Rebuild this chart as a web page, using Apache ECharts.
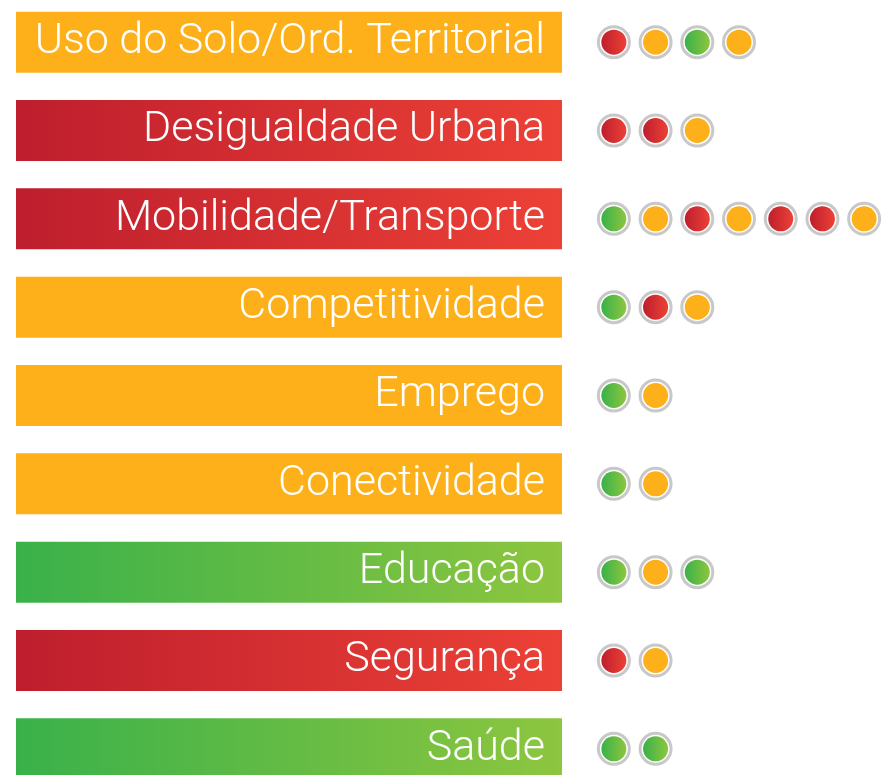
<!DOCTYPE html>
<html>
<head>
<meta charset="utf-8">
<script src="https://cdn.jsdelivr.net/npm/echarts@6/dist/echarts.min.js"></script>
<style>
  html, body { margin: 0; padding: 0; background: #fff; overflow: hidden; }
  #chart { width: 885px; height: 795px; position: absolute; left: 0; top: -2px; }
</style>
</head>
<body>
<div id="chart"></div>
<script>
// temas (linhas) e o estado de cada um
var themes = [
  'Uso do Solo/Ord. Territorial',
  'Desigualdade Urbana',
  'Mobilidade/Transporte',
  'Competitividade',
  'Emprego',
  'Conectividade',
  'Educação',
  'Segurança',
  'Saúde'
]
// cor da barra: r = vermelho, o = laranja, g = verde
var themeStatus = ['o', 'r', 'r', 'o', 'o', 'o', 'g', 'r', 'g']
var barLength = [1, 1, 1, 1, 1, 1, 1, 1, 1]
// indicadores (bolinhas) de cada tema
var indicators = [
  ['r', 'o', 'g', 'o'],
  ['r', 'r', 'o'],
  ['g', 'o', 'r', 'o', 'r', 'r', 'o'],
  ['g', 'r', 'o'],
  ['g', 'o'],
  ['g', 'o'],
  ['g', 'o', 'g'],
  ['r', 'o'],
  ['g', 'g']
]

var labelFont = 'Roboto'

function statusColor(s) {
  if (s === 'o') return '#FDB01A'
  if (s === 'r') {
    return new echarts.graphic.LinearGradient(0, 0, 1, 0, [
      { offset: 0, color: '#BE1E2D' },
      { offset: 1, color: '#EC4136' }
    ])
  }
  return new echarts.graphic.LinearGradient(0, 0, 1, 0, [
    { offset: 0, color: '#39B14A' },
    { offset: 1, color: '#8DC63F' }
  ])
}

// tamanho da fonte para o maior texto caber na barra
function fitFontSize() {
  var ctx = document.createElement('canvas').getContext('2d')
  ctx.font = '300 100px ' + labelFont
  var w = 0
  themes.forEach(function (t) {
    w = Math.max(w, ctx.measureText(t).width)
  })
  return Math.floor((100 * 522) / w)
}

var barData = barLength.map(function (v, i) {
  return { value: v, itemStyle: { color: statusColor(themeStatus[i]) } }
})

var ringData = []
var dotData = []
indicators.forEach(function (row, i) {
  row.forEach(function (s, k) {
    ringData.push([k, i])
    dotData.push({ value: [k, i], itemStyle: { color: statusColor(s) } })
  })
})

var chart = echarts.init(document.getElementById('chart'))
var option = {
  animation: false,
  grid: [
    { left: 16, width: 546, top: 0, height: 795 },
    { left: 593, width: 294, top: 0, height: 795 }
  ],
  xAxis: [
    { gridIndex: 0, type: 'value', min: 0, max: 1, show: false },
    { gridIndex: 1, type: 'value', min: -0.5, max: 6.5, show: false }
  ],
  yAxis: [
    { gridIndex: 0, type: 'category', data: themes, inverse: true, show: false },
    { gridIndex: 1, type: 'category', data: themes, inverse: true, show: false }
  ],
  series: [
    {
      type: 'bar',
      xAxisIndex: 0,
      yAxisIndex: 0,
      barWidth: 61,
      data: barData,
      label: {
        show: true,
        position: 'insideRight',
        distance: 17,
        formatter: function (p) { return p.name },
        color: '#fff',
        fontFamily: labelFont,
        fontWeight: 300,
        fontSize: fitFontSize()
      }
    },
    {
      type: 'scatter',
      xAxisIndex: 1,
      yAxisIndex: 1,
      symbolSize: 31,
      itemStyle: { color: '#fff', borderColor: '#C8C8C8', borderWidth: 3, opacity: 1 },
      data: ringData
    },
    {
      type: 'scatter',
      xAxisIndex: 1,
      yAxisIndex: 1,
      symbolSize: 25,
      itemStyle: { opacity: 1 },
      data: dotData
    }
  ]
}
chart.setOption(option)
</script>
</body>
</html>
